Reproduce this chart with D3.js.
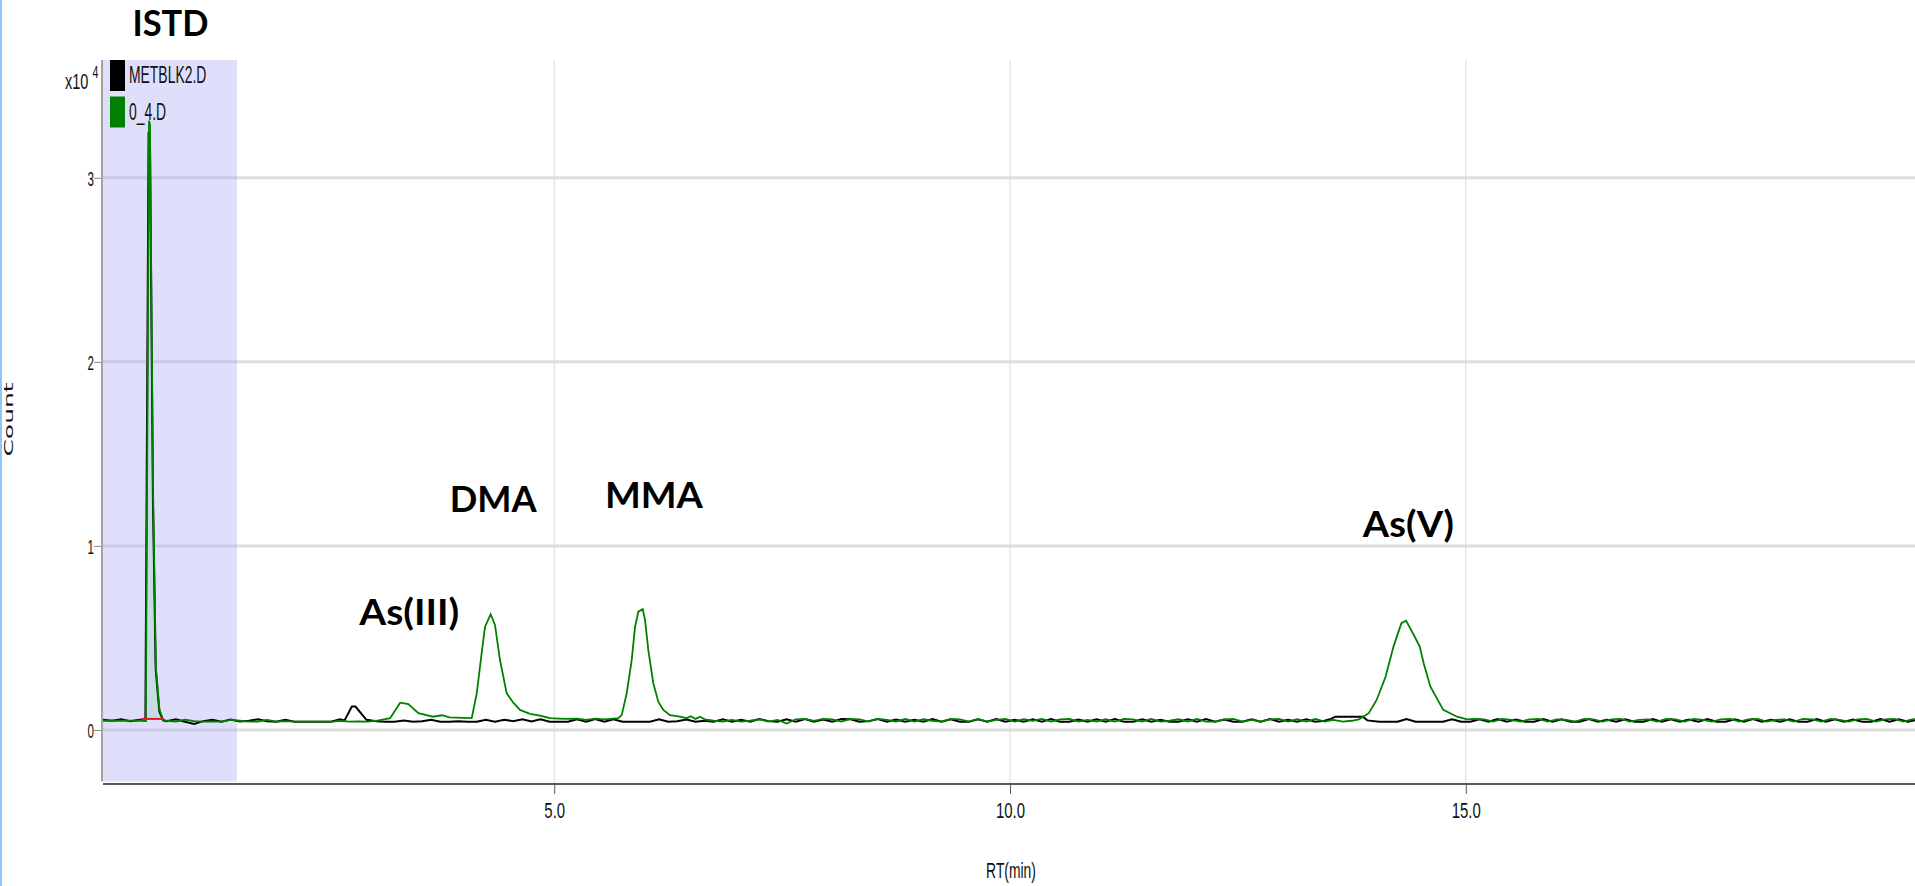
<!DOCTYPE html>
<html>
<head>
<meta charset="utf-8">
<script src="https://cdn.jsdelivr.net/npm/d3@7"></script>
<style>
  html, body { margin: 0; padding: 0; background: #ffffff; overflow: hidden; }
  svg { display: block; }
</style>
</head>
<body>
<svg id="chart" width="1915" height="886"></svg>
<script>
// ---------------- data ----------------
// Retention time in minutes, counts in units of 10^4.
const seriesNames = ["METBLK2.D", "0_4.D"];
const seriesColors = ["#000000", "#008000"];

const rtTicks = [5, 10, 15];
const rtTickLabels = ["5.0", "10.0", "15.0"];
const countTicks = [0, 1, 2, 3];
const countTickLabels = ["0", "1", "2", "3"];

const peakNames = ["ISTD", "As(III)", "DMA", "MMA", "As(V)"];

// ISTD retention window and its integration baseline
const istdWindow = [0.05, 1.52];
const istdIntegration = [0.467, 0.71];
const istdBaseline = 0.06;

// method blank
const blankTrace = [
  [0.05,0.055],[0.15,0.050],[0.25,0.058],[0.35,0.047],[0.45,0.056],[0.515,0.050],
  [0.55,3.25],[0.565,3.21],[0.598,1.24],[0.628,0.33],[0.668,0.10],[0.71,0.052],
  [0.75,0.048],[0.85,0.058],[0.95,0.045],[1.05,0.033],[1.15,0.048],[1.25,0.056],
  [1.35,0.045],[1.45,0.057],[1.55,0.046],[1.65,0.050],[1.75,0.058],[1.85,0.047],
  [1.95,0.045],[2.05,0.056],[2.15,0.045],[2.55,0.045],[2.65,0.058],[2.70,0.052],
  [2.78,0.127],[2.82,0.127],[2.94,0.055],[3.05,0.047],[3.15,0.045],[3.25,0.045],
  [3.35,0.052],[3.45,0.045],[3.55,0.047],[3.65,0.056],[3.75,0.045],[3.85,0.045],
  [3.95,0.048],[4.05,0.045],[4.15,0.045],[4.25,0.055],[4.35,0.045],[4.45,0.056],
  [4.55,0.048],[4.65,0.058],[4.75,0.046],[4.85,0.058],[4.95,0.045],[5.05,0.045],
  [5.15,0.045],[5.25,0.058],[5.35,0.045],[5.45,0.060],[5.55,0.045],[5.65,0.058],
  [5.75,0.045],[5.95,0.045],[6.05,0.045],[6.15,0.058],[6.25,0.045],[6.35,0.047],
  [6.45,0.057],[6.55,0.045],[6.65,0.050],[6.75,0.045],[6.85,0.058],[6.95,0.045],
  [7.05,0.055],[7.15,0.045],[7.25,0.060],[7.35,0.048],[7.45,0.045],[7.55,0.058],
  [7.65,0.045],[7.75,0.060],[7.85,0.045],[7.95,0.057],[8.05,0.045],[8.15,0.060],
  [8.25,0.058],[8.35,0.045],[8.45,0.048],[8.55,0.060],[8.65,0.045],[8.75,0.057],
  [8.85,0.045],[8.95,0.055],[9.05,0.045],[9.15,0.060],[9.25,0.045],[9.35,0.058],
  [9.45,0.045],[9.55,0.045],[9.65,0.058],[9.75,0.045],[9.85,0.060],[9.95,0.045],
  [10.05,0.056],[10.15,0.045],[10.25,0.058],[10.35,0.045],[10.45,0.060],[10.55,0.045],
  [10.65,0.045],[10.75,0.057],[10.85,0.045],[10.95,0.058],[11.05,0.045],[11.15,0.060],
  [11.25,0.045],[11.35,0.045],[11.45,0.058],[11.55,0.045],[11.65,0.056],[11.75,0.045],
  [11.85,0.045],[11.95,0.058],[12.05,0.045],[12.15,0.060],[12.25,0.045],[12.35,0.057],
  [12.45,0.045],[12.55,0.045],[12.65,0.058],[12.75,0.045],[12.85,0.060],[12.95,0.045],
  [13.05,0.056],[13.15,0.045],[13.25,0.058],[13.35,0.045],[13.45,0.050],[13.52,0.060],
  [13.57,0.072],[13.87,0.072],[13.92,0.052],[14.05,0.045],[14.15,0.045],[14.25,0.045],
  [14.35,0.060],[14.45,0.045],[14.55,0.045],[14.65,0.045],[14.75,0.045],[14.85,0.058],
  [14.95,0.045],[15.05,0.045],[15.15,0.058],[15.25,0.045],[15.35,0.060],[15.45,0.045],
  [15.55,0.057],[15.65,0.045],[15.75,0.045],[15.85,0.060],[15.95,0.045],[16.05,0.058],
  [16.15,0.045],[16.25,0.045],[16.35,0.060],[16.45,0.045],[16.55,0.056],[16.65,0.045],
  [16.75,0.058],[16.85,0.045],[16.95,0.045],[17.05,0.060],[17.15,0.045],[17.25,0.058],
  [17.35,0.045],[17.45,0.057],[17.55,0.045],[17.65,0.060],[17.75,0.045],[17.85,0.045],
  [17.95,0.058],[18.05,0.045],[18.15,0.060],[18.25,0.045],[18.35,0.056],[18.45,0.045],
  [18.55,0.058],[18.65,0.045],[18.75,0.045],[18.85,0.060],[18.95,0.045],[19.05,0.058],
  [19.15,0.045],[19.25,0.057],[19.35,0.045],[19.45,0.045],[19.55,0.060],[19.65,0.045],
  [19.75,0.058],[19.85,0.045],[19.95,0.055]
];

// standard 0_4
const sampleTrace = [
  [0.05,0.050],[0.52,0.050],[0.555,3.31],[0.565,3.29],[0.60,1.28],[0.63,0.34],
  [0.67,0.11],[0.71,0.055],[0.75,0.050],[0.85,0.045],[0.95,0.056],[1.05,0.048],
  [1.15,0.045],[1.25,0.047],[1.35,0.045],[1.45,0.055],[1.55,0.050],[1.65,0.045],
  [1.75,0.046],[1.85,0.055],[1.95,0.045],[2.05,0.048],[2.15,0.045],[2.57,0.045],
  [2.65,0.050],[2.75,0.045],[2.85,0.047],[2.95,0.045],[3.05,0.050],[3.20,0.064],
  [3.31,0.148],[3.40,0.141],[3.51,0.091],[3.60,0.080],[3.67,0.072],[3.77,0.080],
  [3.85,0.068],[4.00,0.066],[4.095,0.064],[4.150,0.199],[4.204,0.417],[4.241,0.561],
  [4.259,0.580],[4.303,0.629],[4.350,0.571],[4.405,0.380],[4.479,0.199],[4.551,0.148],
  [4.625,0.109],[4.734,0.087],[4.844,0.078],[4.954,0.064],[5.05,0.062],[5.15,0.060],
  [5.25,0.062],[5.35,0.055],[5.45,0.062],[5.55,0.058],[5.65,0.062],[5.703,0.064],
  [5.741,0.082],[5.795,0.199],[5.850,0.380],[5.887,0.561],[5.923,0.643],[5.971,0.656],
  [5.996,0.598],[6.032,0.435],[6.087,0.254],[6.142,0.154],[6.197,0.109],[6.270,0.080],
  [6.380,0.072],[6.454,0.064],[6.50,0.075],[6.55,0.060],[6.60,0.072],[6.65,0.058],
  [6.75,0.050],[6.85,0.045],[6.95,0.055],[7.05,0.045],[7.15,0.050],[7.25,0.058],
  [7.35,0.045],[7.45,0.055],[7.55,0.035],[7.65,0.058],[7.75,0.060],[7.85,0.050],
  [7.95,0.060],[8.05,0.058],[8.15,0.045],[8.25,0.060],[8.35,0.058],[8.45,0.045],
  [8.55,0.060],[8.65,0.055],[8.75,0.045],[8.85,0.060],[8.95,0.045],[9.05,0.058],
  [9.15,0.050],[9.25,0.045],[9.35,0.060],[9.45,0.058],[9.55,0.045],[9.65,0.060],
  [9.75,0.045],[9.85,0.055],[9.95,0.060],[10.05,0.045],[10.15,0.058],[10.25,0.050],
  [10.35,0.060],[10.45,0.045],[10.55,0.058],[10.65,0.060],[10.75,0.045],[10.85,0.055],
  [10.95,0.045],[11.05,0.058],[11.15,0.045],[11.25,0.060],[11.35,0.058],[11.45,0.045],
  [11.55,0.060],[11.65,0.045],[11.75,0.050],[11.85,0.058],[11.95,0.045],[12.05,0.060],
  [12.15,0.045],[12.25,0.045],[12.35,0.058],[12.45,0.060],[12.55,0.045],[12.65,0.055],
  [12.75,0.045],[12.85,0.058],[12.95,0.060],[13.05,0.045],[13.15,0.058],[13.25,0.045],
  [13.35,0.060],[13.45,0.045],[13.55,0.055],[13.65,0.045],[13.75,0.050],[13.828,0.058],
  [13.936,0.091],[14.022,0.163],[14.121,0.290],[14.207,0.453],[14.294,0.580],[14.345,0.594],
  [14.430,0.516],[14.495,0.453],[14.538,0.363],[14.612,0.235],[14.753,0.109],[14.905,0.072],
  [15.012,0.058],[15.10,0.060],[15.20,0.058],[15.30,0.045],[15.40,0.060],[15.50,0.055],
  [15.60,0.045],[15.70,0.058],[15.80,0.060],[15.90,0.045],[16.00,0.058],[16.10,0.055],
  [16.20,0.045],[16.30,0.060],[16.40,0.058],[16.50,0.045],[16.60,0.058],[16.70,0.060],
  [16.80,0.045],[16.90,0.055],[17.00,0.058],[17.10,0.045],[17.20,0.060],[17.30,0.058],
  [17.40,0.045],[17.50,0.060],[17.60,0.055],[17.70,0.045],[17.80,0.058],[17.90,0.060],
  [18.00,0.045],[18.10,0.058],[18.20,0.060],[18.30,0.045],[18.40,0.055],[18.50,0.058],
  [18.60,0.045],[18.70,0.060],[18.80,0.058],[18.90,0.045],[19.00,0.060],[19.10,0.055],
  [19.20,0.045],[19.30,0.058],[19.40,0.060],[19.50,0.045],[19.60,0.058],[19.70,0.060],
  [19.80,0.045],[19.90,0.058],[19.95,0.060]
];

// ---------------- drawing ----------------
const svg = d3.select("#chart");
const W = 1915, H = 886;
const plot = { left: 103, right: 1917, top: 60, bottom: 781.5 };

const x = d3.scaleLinear().domain([0.05, 19.95]).range([plot.left, plot.right]);
const y = d3.scaleLinear().domain([-0.28, 3.64]).range([plot.bottom, plot.top]);

const narrow = 0.58;           // horizontal squeeze of the instrument's label font
const labelFont = "'Liberation Sans', Arial, sans-serif";

// window border at the far left
svg.append("rect").attr("x", 0).attr("y", 0).attr("width", 2).attr("height", H).attr("fill", "#8fc6f8");

// grid
const grid = svg.append("g");
grid.selectAll("line.h").data(countTicks).join("line")
  .attr("x1", plot.left).attr("x2", W)
  .attr("y1", d => y(d)).attr("y2", d => y(d))
  .attr("stroke", "#dedede").attr("stroke-width", 3);
grid.selectAll("line.v").data(rtTicks).join("line")
  .attr("x1", d => x(d)).attr("x2", d => x(d))
  .attr("y1", plot.top).attr("y2", 784)
  .attr("stroke", "#d9d9d9").attr("stroke-width", 1);

// ISTD window shading
svg.append("rect")
  .attr("x", x(istdWindow[0])).attr("y", plot.top)
  .attr("width", x(istdWindow[1]) - x(istdWindow[0]))
  .attr("height", plot.bottom - plot.top)
  .attr("fill", "rgb(170,170,245)").attr("fill-opacity", 0.38);

// integrated ISTD area
const istdPts = sampleTrace.filter(d => d[0] >= istdIntegration[0] && d[0] <= istdIntegration[1]);
svg.append("path").datum(istdPts)
  .attr("d", d3.area().x(d => x(d[0])).y0(y(istdBaseline)).y1(d => y(d[1])))
  .attr("fill", "#c6dbe4");

// traces
const line = d3.line().x(d => x(d[0])).y(d => y(d[1]));
svg.append("path").datum(blankTrace).attr("d", line)
  .attr("fill", "none").attr("stroke", seriesColors[0]).attr("stroke-width", 2);
svg.append("path").datum(sampleTrace).attr("d", line)
  .attr("fill", "none").attr("stroke", seriesColors[1]).attr("stroke-width", 1.8);

// integration baseline
svg.append("line")
  .attr("x1", x(istdIntegration[0])).attr("x2", x(istdIntegration[1]))
  .attr("y1", y(istdBaseline)).attr("y2", y(istdBaseline))
  .attr("stroke", "#e8161e").attr("stroke-width", 2);

// y axis
svg.append("line").attr("x1", 102).attr("x2", 102).attr("y1", plot.top).attr("y2", plot.bottom)
  .attr("stroke", "#a3a3a3").attr("stroke-width", 2);
const yAxis = svg.append("g").attr("transform", "translate(101,0)")
  .call(d3.axisLeft(y).tickValues(countTicks).tickFormat((d, i) => countTickLabels[i]).tickSize(7).tickSizeOuter(0));
yAxis.select(".domain").remove();
yAxis.selectAll(".tick line").attr("stroke", "#8a8a8a");
yAxis.selectAll(".tick text")
  .attr("x", -12).attr("dy", "0.36em")
  .attr("transform", `scale(${narrow},1)`)
  .attr("font-family", labelFont).attr("font-size", 20).attr("fill", "#111");

// x axis
const xAxis = svg.append("g").attr("transform", "translate(0,784)")
  .call(d3.axisBottom(x).tickValues(rtTicks).tickFormat((d, i) => rtTickLabels[i]).tickSize(10).tickSizeOuter(0));
xAxis.select(".domain").attr("stroke", "#5a5a5a").attr("stroke-width", 2)
  .attr("d", `M${plot.left},0H${W}`);
xAxis.selectAll(".tick line").attr("stroke", "#5a5a5a");
xAxis.selectAll(".tick text")
  .attr("y", 18).attr("dy", "0.71em")
  .attr("transform", "scale(0.68,1)")
  .attr("font-family", labelFont).attr("font-size", 22).attr("fill", "#111");

// axis titles
svg.append("text").attr("transform", "translate(1011,878) scale(0.63,1)")
  .attr("text-anchor", "middle").attr("font-family", labelFont).attr("font-size", 22)
  .attr("fill", "#111").text("RT(min)");
svg.append("text").attr("transform", "translate(13,419.5) scale(0.52,1) rotate(-90)")
  .attr("text-anchor", "middle").attr("font-family", "'DejaVu Sans', sans-serif").attr("font-size", 25)
  .attr("fill", "#111").text("Count");

// exponent
const expo = svg.append("text").attr("transform", "translate(65,89) scale(0.66,1)")
  .attr("font-family", labelFont).attr("font-size", 22).attr("fill", "#111");
expo.append("tspan").text("x10 ");
expo.append("tspan").attr("font-size", 16).attr("dy", -11).text("4");

// legend
const legend = svg.append("g").attr("transform", "translate(110,60)");
seriesNames.forEach((name, i) => {
  const g = legend.append("g").attr("transform", `translate(0,${i * 36.5})`);
  g.append("rect").attr("width", 15).attr("height", 31).attr("fill", seriesColors[i]);
  g.append("text").attr("transform", `translate(19,23) scale(${narrow},1)`)
    .attr("font-family", labelFont).attr("font-size", 24).attr("fill", "#111").text(name);
});

// peak annotations: anchor (retention time, count) and drawn width
const peakLabelAt = {
  "ISTD":    [0.79, 3.772, 76],
  "As(III)": [3.41, 0.571, 100],
  "DMA":     [4.33, 1.186, 87],
  "MMA":     [6.094, 1.205, 98],
  "As(V)":   [14.37, 1.047, 91]
};
svg.append("g").selectAll("text").data(peakNames).join("text")
  .attr("x", d => x(peakLabelAt[d][0]))
  .attr("y", d => y(peakLabelAt[d][1]))
  .attr("text-anchor", "middle")
  .attr("textLength", d => peakLabelAt[d][2])
  .attr("lengthAdjust", "spacingAndGlyphs")
  .attr("font-family", "Lato, 'Open Sans', sans-serif")
  .attr("font-weight", 700).attr("font-size", 37).attr("fill", "#000")
  .text(d => d);
</script>
</body>
</html>
